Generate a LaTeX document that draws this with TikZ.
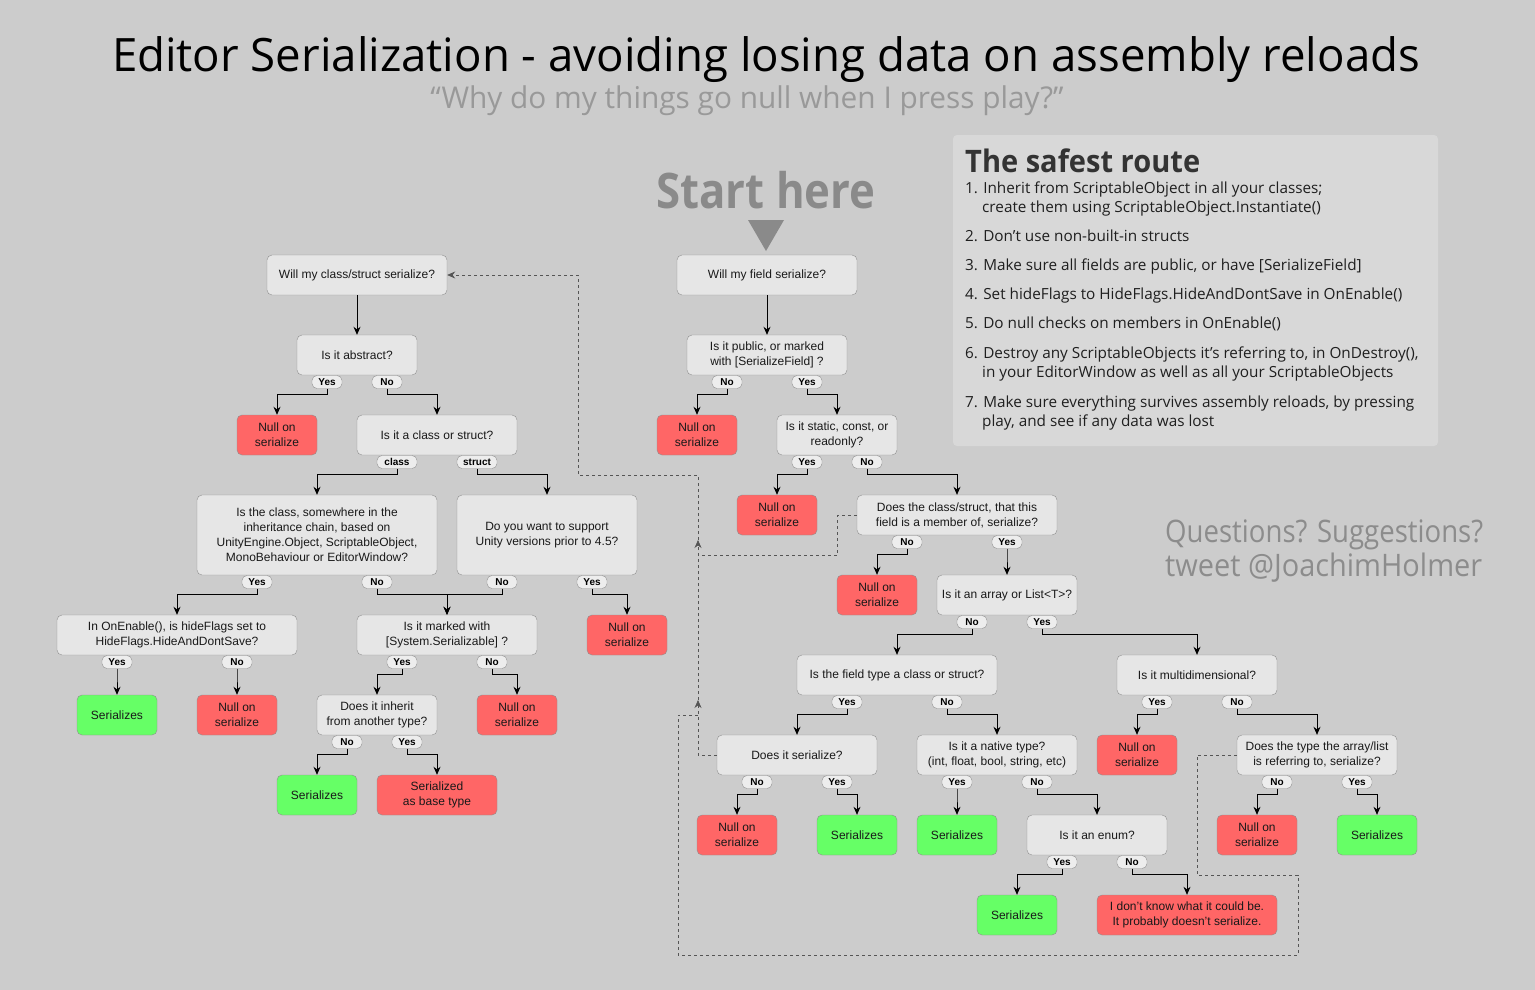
\documentclass[tikz,border=0pt]{standalone}
\usepackage{fontspec}
\usepackage{graphicx}
\setmainfont{Liberation Sans}
\newfontfamily\segoe{Open Sans}
\usetikzlibrary{arrows.meta}
\definecolor{bgcol}{HTML}{CCCCCC}
\definecolor{qfill}{HTML}{E6E6E6}
\definecolor{boxline}{HTML}{8F8F8F}
\definecolor{nullred}{HTML}{FF6666}
\definecolor{okgreen}{HTML}{66FF66}
\definecolor{dashgray}{HTML}{555555}
\definecolor{panel}{HTML}{D8D8D8}
\definecolor{startgray}{HTML}{8A8A8A}
\newcommand{\fitto}[2]{\resizebox{#1}{\height}{#2}}
\tikzset{
  q/.style={draw=boxline,fill=qfill,rounded corners=5pt,align=center,
    minimum height=40pt,inner sep=2pt,text=black!90,font=\fontsize{12}{15}\selectfont},
  bad/.style={q,fill=nullred,minimum width=80pt},
  good/.style={q,fill=okgreen,minimum width=80pt},
  lbl/.style={draw=boxline,fill=qfill!70!white,rounded corners=5pt,minimum width=30pt,
    minimum height=13pt,inner sep=0pt,font=\bfseries\fontsize{10}{10}\selectfont},
  flow/.style={-{Stealth[length=8pt,width=7pt]},black,line width=0.8pt},
  back/.style={dashgray,line width=0.7pt,dash pattern=on 3pt off 3pt},
  backarr/.style={back,-{Stealth[length=8pt,width=7pt]}},
  route/.style={anchor=base west,inner sep=0pt,text=black!88,font=\segoe\fontsize{15.3}{15.3}\selectfont}
}
\begin{document}
\begin{tikzpicture}[x=1pt,y=-1pt]
 \useasboundingbox (0,0) rectangle (1535,990);
 \fill[bgcol] (0,0) rectangle (1535,990);
 % headings
 \node[anchor=base,inner sep=0pt,font=\segoe\fontsize{46}{46}\selectfont] (title) at (766,72)
   {\fitto{1308pt}{Editor Serialization - avoiding losing data on assembly reloads}};
 \node[anchor=base,inner sep=0pt,text=black!40,font=\segoe\fontsize{30}{30}\selectfont] (subtitle) at (747,108)
   {\fitto{633pt}{“Why do my things go null when I press play?”}};
 \node[anchor=base,inner sep=0pt,text=startgray,font=\segoe\bfseries\fontsize{49}{49}\selectfont] (start) at (766,208)
   {\fitto{219pt}{Start here}};
 \fill[startgray] (748,220) -- (784,220) -- (766,251) -- cycle;
 \node[anchor=base west,inner sep=0pt,text=black!45,font=\segoe\fontsize{31}{31}\selectfont] (ask) at (1165,542)
   {\fitto{318pt}{Questions? Suggestions?}};
 \node[anchor=base west,inner sep=0pt,text=black!45,font=\segoe\fontsize{31}{31}\selectfont] (tweet) at (1165,576)
   {\fitto{317pt}{tweet @JoachimHolmer}};

 % the safest route
 \fill[panel,rounded corners=4pt] (953,135) rectangle (1438,446);
 \node[anchor=base west,inner sep=0pt,text=black!80,font=\segoe\bfseries\fontsize{31}{31}\selectfont] (safe) at (965,172)
   {\fitto{235pt}{The safest route}};
 \node[route] (r1) at (965,193) {1. Inherit from ScriptableObject in all your classes;};
 \node[route] (r1b) at (982,212) {create them using ScriptableObject.Instantiate()};
 \node[route] (r2) at (965,241) {2. Don’t use non-built-in structs};
 \node[route] (r3) at (965,270) {3. Make sure all fields are public, or have [SerializeField]};
 \node[route] (r4) at (965,299) {4. Set hideFlags to HideFlags.HideAndDontSave in OnEnable()};
 \node[route] (r5) at (965,328) {5. Do null checks on members in OnEnable()};
 \node[route] (r6) at (965,358) {6. Destroy any ScriptableObjects it’s referring to, in OnDestroy(),};
 \node[route] (r6b) at (982,377) {in your EditorWindow as well as all your ScriptableObjects};
 \node[route] (r7) at (965,407) {7. Make sure everything survives assembly reloads, by pressing};
 \node[route] (r7b) at (982,426) {play, and see if any data was lost};

 % class / struct tree
 \node[q,minimum width=180pt] (classQ) at (357,275) {Will my class/struct serialize?};
 \node[q,minimum width=120pt] (abstractQ) at (357,355) {Is it abstract?};
 \node[lbl] (abstractY) at (327,382) {Yes};
 \node[lbl] (abstractN) at (387,382) {No};
 \node[bad] (nullA) at (277,435) {Null on\\serialize};
 \node[q,minimum width=160pt] (kindQ) at (437,435) {Is it a class or struct?};
 \node[lbl,minimum width=40pt] (kindC) at (397,462) {class};
 \node[lbl,minimum width=40pt] (kindS) at (477,462) {struct};
 \node[q,minimum width=240pt,minimum height=80pt] (unityQ) at (317,535)
   {Is the class, somewhere in the\\inheritance chain, based on\\UnityEngine.Object, ScriptableObject,\\MonoBehaviour or EditorWindow?};
 \node[lbl] (unityY) at (257,582) {Yes};
 \node[lbl] (unityN) at (377,582) {No};
 \node[q,minimum width=180pt,minimum height=80pt] (oldQ) at (547,535) {Do you want to support\\Unity versions prior to 4.5?};
 \node[lbl] (oldN) at (502,582) {No};
 \node[lbl] (oldY) at (592,582) {Yes};
 \node[q,minimum width=240pt] (flagsQ) at (177,635) {In OnEnable(), is hideFlags set to\\HideFlags.HideAndDontSave?};
 \node[lbl] (flagsY) at (117,662) {Yes};
 \node[lbl] (flagsN) at (237,662) {No};
 \node[q,minimum width=180pt] (markQ) at (447,635) {Is it marked with\\{[System.Serializable] ?}};
 \node[lbl] (markY) at (402,662) {Yes};
 \node[lbl] (markN) at (492,662) {No};
 \node[bad] (nullB) at (627,635) {Null on\\serialize};
 \node[good] (okA) at (117,715) {Serializes};
 \node[bad] (nullC) at (237,715) {Null on\\serialize};
 \node[q,minimum width=120pt] (inhQ) at (377,715) {Does it inherit\\from another type?};
 \node[lbl] (inhN) at (347,742) {No};
 \node[lbl] (inhY) at (407,742) {Yes};
 \node[bad] (nullD) at (517,715) {Null on\\serialize};
 \node[good] (okB) at (317,795) {Serializes};
 \node[bad,minimum width=120pt] (baseT) at (437,795) {Serialized\\as base type};

 % field tree
 \node[q,minimum width=180pt] (fieldQ) at (767,275) {Will my field serialize?};
 \node[q,minimum width=160pt] (publicQ) at (767,355) {Is it public, or marked\\with [SerializeField] ?};
 \node[lbl] (publicN) at (727,382) {No};
 \node[lbl] (publicY) at (807,382) {Yes};
 \node[bad] (nullE) at (697,435) {Null on\\serialize};
 \node[q,minimum width=120pt] (staticQ) at (837,435) {Is it static, const, or\\readonly?};
 \node[lbl] (staticY) at (807,462) {Yes};
 \node[lbl] (staticN) at (867,462) {No};
 \node[bad] (nullF) at (777,515) {Null on\\serialize};
 \node[q,minimum width=200pt] (ownerQ) at (957,515) {Does the class/struct, that this\\field is a member of, serialize?};
 \node[lbl] (ownerN) at (907,542) {No};
 \node[lbl] (ownerY) at (1007,542) {Yes};
 \node[bad] (nullG) at (877,595) {Null on\\serialize};
 \node[q,minimum width=140pt] (arrayQ) at (1007,595) {Is it an array or List<T>?};
 \node[lbl] (arrayN) at (972,622) {No};
 \node[lbl] (arrayY) at (1042,622) {Yes};
 \node[q,minimum width=200pt] (typeQ) at (897,675) {Is the field type a class or struct?};
 \node[lbl] (typeY) at (847,702) {Yes};
 \node[lbl] (typeN) at (947,702) {No};
 \node[q,minimum width=160pt] (multiQ) at (1197,675) {Is it multidimensional?};
 \node[lbl] (multiY) at (1157,702) {Yes};
 \node[lbl] (multiN) at (1237,702) {No};
 \node[q,minimum width=160pt] (memberQ) at (797,755) {Does it serialize?};
 \node[lbl] (memberN) at (757,782) {No};
 \node[lbl] (memberY) at (837,782) {Yes};
 \node[q,minimum width=160pt] (nativeQ) at (997,755) {Is it a native type?\\(int, float, bool, string, etc)};
 \node[lbl] (nativeY) at (957,782) {Yes};
 \node[lbl] (nativeN) at (1037,782) {No};
 \node[bad] (nullH) at (1137,755) {Null on\\serialize};
 \node[q,minimum width=160pt] (elemQ) at (1317,755) {Does the type the array/list\\is referring to, serialize?};
 \node[lbl] (elemN) at (1277,782) {No};
 \node[lbl] (elemY) at (1357,782) {Yes};
 \node[bad] (nullI) at (737,835) {Null on\\serialize};
 \node[good] (okC) at (857,835) {Serializes};
 \node[good] (okD) at (957,835) {Serializes};
 \node[q,minimum width=140pt] (enumQ) at (1097,835) {Is it an enum?};
 \node[lbl] (enumY) at (1062,862) {Yes};
 \node[lbl] (enumN) at (1132,862) {No};
 \node[bad] (nullJ) at (1257,835) {Null on\\serialize};
 \node[good] (okE) at (1377,835) {Serializes};
 \node[good] (okF) at (1017,915) {Serializes};
 \node[bad,minimum width=180pt] (unknown) at (1187,915) {I don't know what it could be.\\It probably doesn't serialize.};

 % answers
 \draw[flow] (classQ) -- (abstractQ);
 \draw[flow] (fieldQ) -- (publicQ);
 \foreach \a/\b in {abstractY/nullA,abstractN/kindQ,kindC/unityQ,kindS/oldQ,unityY/flagsQ,
   unityN/markQ,oldN/markQ,oldY/nullB,flagsY/okA,flagsN/nullC,markY/inhQ,markN/nullD,
   inhN/okB,inhY/baseT,publicN/nullE,publicY/staticQ,staticY/nullF,staticN/ownerQ,
   ownerN/nullG,ownerY/arrayQ,arrayN/typeQ,arrayY/multiQ,typeY/memberQ,typeN/nativeQ,
   multiY/nullH,multiN/elemQ,memberN/nullI,memberY/okC,nativeY/okD,nativeN/enumQ,
   elemN/nullJ,elemY/okE,enumY/okF,enumN/unknown}
   \draw[flow] (\a.south) -- ++(0,6) -| (\b.north);

 % go back and check the class/struct
 \coordinate (upA) at (698,540);
 \coordinate (upB) at (698,700);
 \coordinate (joinA) at (698,555);
 \coordinate (joinB) at (698,715);
 \coordinate (bend) at (578,475);
 \coordinate (loopA) at (1197,875);
 \coordinate (loopB) at (1298,955);
 \coordinate (loopC) at (678,715);
 \draw[backarr] (memberQ.west) -| (upB);
 \draw[backarr] (upB) -- (upA);
 \draw[backarr] (upA) |- (bend) |- (classQ.east);
 \draw[back] (ownerQ.west) -- ++(-19,0) |- (joinA);
 \draw[back] (elemQ.west) -| (loopA) -| (loopB) -| (loopC) -- (joinB);
\end{tikzpicture}
\end{document}
